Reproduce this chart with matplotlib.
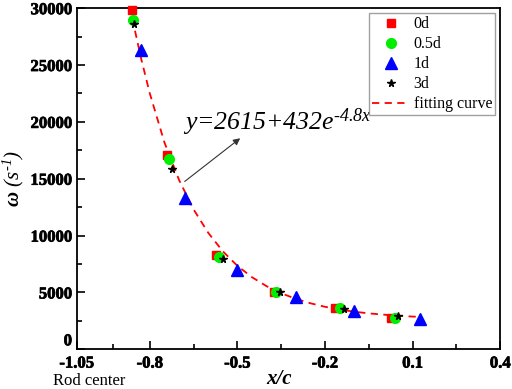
import numpy as np
import matplotlib
matplotlib.use('Agg')
import matplotlib.pyplot as plt
import matplotlib.patheffects as pe

# data
x_0d = [-0.862, -0.740, -0.572, -0.376, -0.167, 0.027]
y_0d = [29800, 17130, 8270, 5050, 3600, 2770]

x_05d = [-0.859, -0.734, -0.564, -0.367, -0.150, 0.041]
y_05d = [28950, 16750, 8120, 5050, 3600, 2770]

x_1d = [-0.829, -0.680, -0.503, -0.300, -0.102, 0.124]
y_1d = [26300, 13330, 6960, 4560, 3390, 2630]

x_3d = [-0.855, -0.725, -0.551, -0.353, -0.136, 0.051]
y_3d = [28650, 15880, 7980, 5000, 3530, 2950]

# fitting curve, read at a set of x positions
x_fit = [-0.86, -0.83, -0.80, -0.75, -0.70, -0.65, -0.60, -0.55, -0.50, -0.45,
         -0.40, -0.35, -0.30, -0.25, -0.20, -0.15, -0.10, -0.05, 0.00, 0.05,
         0.10, 0.12]
y_fit = [29100, 25600, 22500, 18200, 14900, 12300, 10250, 8620, 7340, 6340,
         5550, 4930, 4440, 4050, 3740, 3500, 3310, 3160, 3050, 2955,
         2880, 2858]

xtick_vals = [-1.05, -0.8, -0.5, -0.2, 0.1, 0.4]
xtick_labels = ['-1.05', '-0.8', '-0.5', '-0.2', '0.1', '0.4']
xminor_vals = [-0.925, -0.65, -0.35, -0.05, 0.25]
ytick_vals = [0, 5000, 10000, 15000, 20000, 25000, 30000]
ytick_labels = ['0', '5000', '10000', '15000', '20000', '25000', '30000']
yminor_vals = [2500, 7500, 12500, 17500, 22500, 27500]

plt.rcParams['font.family'] = ['Liberation Serif', 'DejaVu Serif']
plt.rcParams['mathtext.fontset'] = 'custom'
plt.rcParams['mathtext.it'] = 'Liberation Serif:italic'
plt.rcParams['mathtext.rm'] = 'Liberation Serif:italic'
plt.rcParams['mathtext.bf'] = 'Liberation Serif:bold:italic'

fig = plt.figure(figsize=(5.12, 3.89), dpi=100)
ax = fig.add_axes([0.150, 0.102, 0.827, 0.877])

ax.plot(x_0d, y_0d, 's', color='#ff0000', markersize=5.8, label='0d', clip_on=False, zorder=3)
ax.plot(x_05d, y_05d, 'o', color='#00ee00', markersize=7, label='0.5d', zorder=4)
ax.plot(x_1d, y_1d, '^', color='#0000ff', markersize=8, label='1d', zorder=3)
ax.plot(x_3d, y_3d, '*', color='black', markersize=5.5, label='3d', zorder=5)
ax.plot(x_fit, y_fit, '--', color='#ff0000', linewidth=1.3, dashes=(4, 3),
        label='fitting curve', zorder=2)

ax.set_xlim(-1.05, 0.4)
ax.set_ylim(0, 30000)
bold = [pe.withStroke(linewidth=0.5, foreground='black')]
ax.set_xticks(xtick_vals)
ax.set_xticklabels(xtick_labels, fontweight='bold', path_effects=bold)
ax.set_xticks(xminor_vals, minor=True)
ax.set_yticks(ytick_vals)
ax.set_yticklabels(ytick_labels, fontweight='bold', path_effects=bold)
ax.set_yticks(yminor_vals, minor=True)
ax.tick_params(which='both', direction='in', top=False, right=False,
               width=1.2, labelsize=12)
ax.tick_params(which='major', length=6)
ax.tick_params(which='minor', length=3.5)
ax.tick_params(axis='x', pad=4.5)
ax.get_yticklabels()[0].set_va('bottom')
for s in ax.spines.values():
    s.set_linewidth(1.3)

ax.set_ylabel(r'$\mathbf{\omega}$ $(s^{\text{-}1})$', fontsize=15, labelpad=3)
ax.set_xlabel('x/c', fontsize=15, fontweight='bold', style='italic', labelpad=0)
ax.xaxis.set_label_coords(0.478, -0.058, transform=ax.transAxes)
ax.xaxis.label.set_va('top')
ax.text(-1.009, -0.07, 'Rod center', transform=ax.get_xaxis_transform(),
        fontsize=12, ha='center', va='top')

ax.annotate('', xy=(-0.483, 18710), xytext=(-0.688, 14610),
            arrowprops=dict(arrowstyle='-|>', color='#333333', lw=0.8,
                            mutation_scale=10))
ax.text(-0.688, 19300, r'y=2615+432e$^{\text{-4.8}x}$', fontsize=18.5,
        style='italic', ha='left', va='baseline')

leg = ax.legend(loc='upper right', prop={'size': 11.5},
                frameon=True, fancybox=False,
                edgecolor='#888888', labelspacing=0.25, handlelength=2.3,
                handletextpad=0.3, borderpad=0.2, borderaxespad=0.3)
leg.get_frame().set_linewidth(1.0)

fig.savefig('out.png', dpi=100)
